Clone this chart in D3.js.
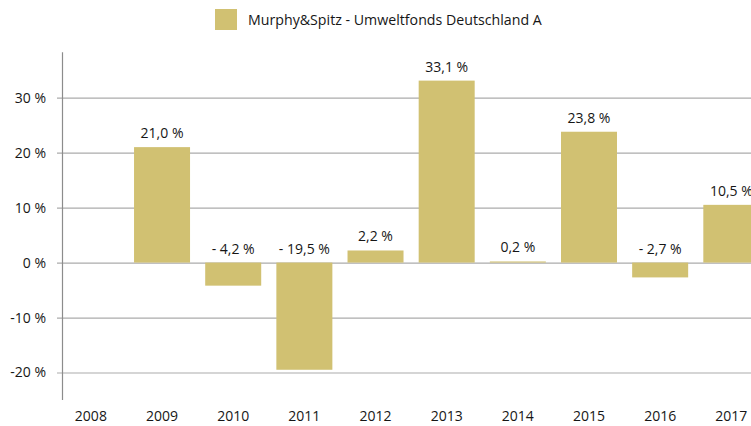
<!DOCTYPE html>
<html>
<head>
<meta charset="utf-8">
<script src="https://cdn.jsdelivr.net/npm/d3@7"></script>
<style>
  body { margin: 0; background: #fff; }
  text { font-family: "Open Sans", "DejaVu Sans", sans-serif; fill: #161616; }
</style>
</head>
<body>
<script>
// data
var years = ["2008", "2009", "2010", "2011", "2012", "2013", "2014", "2015", "2016", "2017"];
var returns = [null, 21.0, -4.2, -19.5, 2.2, 33.1, 0.2, 23.8, -2.7, 10.5];
var yTicks = [30, 20, 10, 0, -10, -20];
var seriesName = "Murphy&Spitz - Umweltfonds Deutschland A";

var width = 751, height = 426,
    barColor = "#d1c172",
    gridColor = "#ababab";

var svg = d3.select("body").append("svg")
    .attr("width", width)
    .attr("height", height);

var x = d3.scaleBand().domain(years).range([55.3, 766.9])
    .paddingInner(0.213).paddingOuter(0.1065);
var y = d3.scaleLinear().domain([-25, 38.25]).range([400, 52.3]);

var fmt = function (v) {
    var s = Math.abs(v).toFixed(1).replace(".", ",") + " %";
    return v < 0 ? "- " + s : s;
};

// grid lines + y labels
var yAxis = svg.append("g")
    .attr("transform", "translate(62,0)")
    .call(d3.axisLeft(y).tickValues(yTicks).tickSize(0).tickPadding(16)
        .tickFormat(function (d) { return d + " %"; }));
yAxis.select(".domain").remove();
yAxis.selectAll(".tick line")
    .attr("x1", -5).attr("x2", width)
    .attr("stroke", gridColor).attr("stroke-width", 1.2);
yAxis.selectAll(".tick text")
    .attr("font-size", 14).attr("fill", "#161616")
    .attr("font-family", null);

// vertical axis line
svg.append("line")
    .attr("x1", 62.5).attr("x2", 62.5)
    .attr("y1", y.range()[1]).attr("y2", y.range()[0])
    .attr("stroke", "#8c8c8c").attr("stroke-width", 1.2);

var data = years.map(function (d, i) { return { year: d, val: returns[i] }; })
    .filter(function (d) { return d.val !== null; });

svg.append("g").selectAll("rect")
    .data(data)
    .join("rect")
    .attr("x", function (d) { return x(d.year); })
    .attr("width", x.bandwidth())
    .attr("y", function (d) { return y(Math.max(0, d.val)); })
    .attr("height", function (d) { return Math.abs(y(d.val) - y(0)); })
    .attr("fill", barColor);

svg.append("g").selectAll("text")
    .data(data)
    .join("text")
    .attr("x", function (d) { return x(d.year) + x.bandwidth() / 2; })
    .attr("y", function (d) { return y(Math.max(0, d.val)) - 9; })
    .attr("text-anchor", "middle")
    .attr("font-size", 14)
    .text(function (d) { return fmt(d.val); });

// x labels
var xAxis = svg.append("g")
    .attr("transform", "translate(0,400)")
    .call(d3.axisBottom(x).tickSize(0).tickPadding(11));
xAxis.select(".domain").remove();
xAxis.selectAll(".tick text")
    .attr("font-size", 14).attr("fill", "#161616")
    .attr("font-family", null);

// legend
var legend = svg.append("g");
legend.append("rect")
    .attr("x", 215).attr("y", 9)
    .attr("width", 22).attr("height", 21)
    .attr("fill", barColor);
legend.append("text")
    .attr("x", 248).attr("y", 25)
    .attr("font-size", 14.2)
    .text(seriesName);
</script>
</body>
</html>
